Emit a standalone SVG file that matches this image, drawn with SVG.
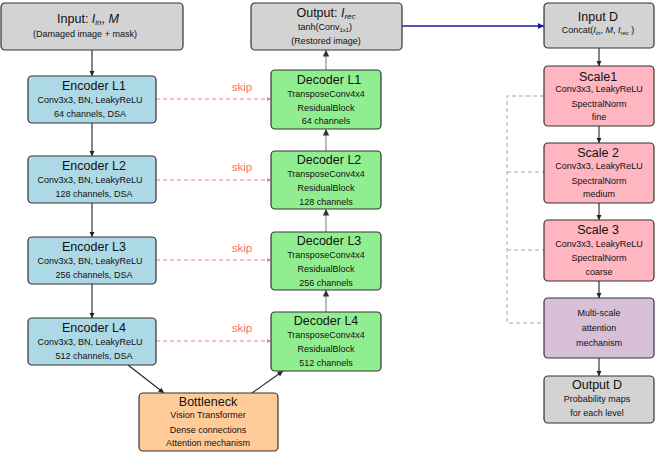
<svg xmlns="http://www.w3.org/2000/svg" width="655" height="452" viewBox="0 0 655 452">
<defs>
<marker id="ak" viewBox="0 0 10 10" refX="10" refY="5" markerWidth="5" markerHeight="5" orient="auto"><path d="M0,0 L10,5 L0,10 z" fill="#222"/></marker>
<marker id="ag" viewBox="0 0 10 10" refX="10" refY="5" markerWidth="5" markerHeight="5" orient="auto"><path d="M0,0 L10,5 L0,10 z" fill="#333"/></marker>
<marker id="ar" viewBox="0 0 10 10" refX="10" refY="5" markerWidth="4" markerHeight="4" orient="auto"><path d="M0,0 L10,5 L0,10 z" fill="#f08070"/></marker>
<marker id="ab" viewBox="0 0 10 10" refX="10" refY="5" markerWidth="4" markerHeight="4" orient="auto"><path d="M0,0 L10,5 L0,10 z" fill="#1c1ca0"/></marker>
</defs>
<style>
text{font-family:"Liberation Sans",Arial,sans-serif;fill:#111;text-anchor:middle}
.t{font-size:12.5px}
.s{font-size:9px}
.box{stroke:#333;stroke-width:1.2}
.gray{fill:#d3d3d3}
.enc{fill:#add8e6}
.dec{fill:#90ee90}
.bot{fill:#ffcc99}
.sc{fill:#ffb6c1}
.ms{fill:#d8bfd8}
.k{stroke:#222;stroke-width:1.1;fill:none;marker-end:url(#ak)}
.g{stroke:#999;stroke-width:1.3;fill:none;marker-end:url(#ag)}
.r{stroke:#f08070;stroke-width:1;stroke-dasharray:4,3;fill:none;marker-end:url(#ar)}
.d{stroke:#c4c4c4;stroke-width:1.5;stroke-dasharray:4,3;fill:none}
.sk{fill:#f07860;font-size:11.5px}
.i{font-style:italic}
</style>
<g id="connectors">
<line class="k" x1="92" y1="50" x2="92" y2="76"/>
<line class="k" x1="92" y1="123" x2="92" y2="156"/>
<line class="k" x1="92" y1="203" x2="92" y2="237"/>
<line class="k" x1="92" y1="284" x2="92" y2="318"/>
<line class="k" x1="128" y1="365" x2="164" y2="393"/>
<line class="k" x1="252" y1="393" x2="283" y2="371"/>
<line class="g" x1="326" y1="312" x2="326" y2="290"/>
<line class="g" x1="326" y1="232" x2="326" y2="209"/>
<line class="g" x1="326" y1="151" x2="326" y2="129"/>
<line class="g" x1="326" y1="70" x2="326" y2="50"/>
<line class="r" x1="156" y1="99" x2="271" y2="99"/>
<line class="r" x1="156" y1="180" x2="271" y2="180"/>
<line class="r" x1="156" y1="260" x2="271" y2="260"/>
<line class="r" x1="156" y1="341" x2="271" y2="341"/>
<text class="sk" x="242" y="91">skip</text>
<text class="sk" x="242" y="171">skip</text>
<text class="sk" x="242" y="252">skip</text>
<text class="sk" x="242" y="332">skip</text>
<line x1="402" y1="26" x2="544" y2="26" stroke="#1c1ca0" stroke-width="1.6" marker-end="url(#ab)"/>
<line class="k" x1="599" y1="48" x2="599" y2="66"/>
<line class="k" x1="599" y1="126" x2="599" y2="143"/>
<line class="k" x1="599" y1="203" x2="599" y2="220"/>
<line class="k" x1="599" y1="281" x2="599" y2="298"/>
<line class="k" x1="599" y1="358" x2="599" y2="376"/>
<path class="d" d="M544,96 H507 V323 H544"/>
<line class="d" x1="507" y1="172" x2="544" y2="172"/>
<line class="d" x1="507" y1="250" x2="544" y2="250"/>
</g>
<g id="input">
<rect class="box gray" x="1" y="3" width="182" height="47" rx="4"/>
<text class="t" x="88" y="23">Input: <tspan class="i">I</tspan><tspan class="i" font-size="8" dy="2">in</tspan><tspan dy="-2">, </tspan><tspan class="i">M</tspan></text>
<text class="s" x="85" y="37">(Damaged image + mask)</text>
</g>
<g id="enc1">
<rect class="box enc" x="28" y="76" width="128" height="47" rx="4"/>
<text class="t" x="94" y="90">Encoder L1</text>
<text class="s" x="90" y="103">Conv3x3, BN, LeakyReLU</text>
<text class="s" x="90" y="117">64 channels, DSA</text>
</g>
<g id="enc2">
<rect class="box enc" x="28" y="156" width="128" height="47" rx="4"/>
<text class="t" x="94" y="170">Encoder L2</text>
<text class="s" x="90" y="183">Conv3x3, BN, LeakyReLU</text>
<text class="s" x="94" y="197">128 channels, DSA</text>
</g>
<g id="enc3">
<rect class="box enc" x="28" y="237" width="128" height="47" rx="4"/>
<text class="t" x="94" y="251">Encoder L3</text>
<text class="s" x="90" y="264">Conv3x3, BN, LeakyReLU</text>
<text class="s" x="94" y="278">256 channels, DSA</text>
</g>
<g id="enc4">
<rect class="box enc" x="28" y="318" width="128" height="47" rx="4"/>
<text class="t" x="94" y="332">Encoder L4</text>
<text class="s" x="90" y="345">Conv3x3, BN, LeakyReLU</text>
<text class="s" x="94" y="359">512 channels, DSA</text>
</g>
<g id="bottleneck">
<rect class="box bot" x="139" y="393" width="139" height="58" rx="4"/>
<text class="t" x="208" y="406">Bottleneck</text>
<text class="s" x="208" y="418">Vision Transformer</text>
<text class="s" x="208" y="433">Dense connections</text>
<text class="s" x="208" y="446">Attention mechanism</text>
</g>
<g id="output">
<rect class="box gray" x="251" y="3" width="151" height="47" rx="4"/>
<text class="t" x="326" y="17">Output: <tspan class="i">I</tspan><tspan class="i" font-size="8" dy="2">rec</tspan></text>
<text class="s" x="325" y="30">tanh(Conv<tspan font-size="6" dy="2">1x1</tspan><tspan dy="-2">)</tspan></text>
<text class="s" x="326" y="44">(Restored image)</text>
</g>
<g id="dec1">
<rect class="box dec" x="271" y="70" width="110" height="59" rx="4"/>
<text class="t" x="329" y="84">Decoder L1</text>
<text class="s" x="326" y="97">TransposeConv4x4</text>
<text class="s" x="326" y="111">ResidualBlock</text>
<text class="s" x="326" y="124">64 channels</text>
</g>
<g id="dec2">
<rect class="box dec" x="271" y="151" width="110" height="58" rx="4"/>
<text class="t" x="329" y="164">Decoder L2</text>
<text class="s" x="326" y="177">TransposeConv4x4</text>
<text class="s" x="326" y="191">ResidualBlock</text>
<text class="s" x="326" y="205">128 channels</text>
</g>
<g id="dec3">
<rect class="box dec" x="271" y="232" width="110" height="58" rx="4"/>
<text class="t" x="329" y="245">Decoder L3</text>
<text class="s" x="326" y="258">TransposeConv4x4</text>
<text class="s" x="326" y="272">ResidualBlock</text>
<text class="s" x="326" y="286">256 channels</text>
</g>
<g id="dec4">
<rect class="box dec" x="271" y="312" width="110" height="59" rx="4"/>
<text class="t" x="326" y="325">Decoder L4</text>
<text class="s" x="326" y="338">TransposeConv4x4</text>
<text class="s" x="326" y="352">ResidualBlock</text>
<text class="s" x="326" y="366">512 channels</text>
</g>
<g id="inputD">
<rect class="box gray" x="544" y="3" width="110" height="45" rx="4"/>
<text class="t" x="598" y="21">Input D</text>
<text class="s" x="598" y="33">Concat(<tspan class="i">I</tspan><tspan class="i" font-size="6" dy="1.5">in</tspan><tspan dy="-1.5">, </tspan><tspan class="i">M</tspan>, <tspan class="i">I</tspan><tspan class="i" font-size="6" dy="1.5">rec</tspan><tspan dy="-1.5"> )</tspan></text>
</g>
<g id="scale1">
<rect class="box sc" x="544" y="66" width="110" height="60" rx="4"/>
<text class="t" x="598" y="81">Scale1</text>
<text class="s" x="599" y="92">Conv3x3, LeakyReLU</text>
<text class="s" x="599" y="107">SpectralNorm</text>
<text class="s" x="599" y="120">fine</text>
</g>
<g id="scale2">
<rect class="box sc" x="544" y="143" width="110" height="60" rx="4"/>
<text class="t" x="598" y="157">Scale 2</text>
<text class="s" x="599" y="169">Conv3x3, LeakyReLU</text>
<text class="s" x="599" y="184">SpectralNorm</text>
<text class="s" x="599" y="197">medium</text>
</g>
<g id="scale3">
<rect class="box sc" x="544" y="220" width="110" height="61" rx="4"/>
<text class="t" x="598" y="234">Scale 3</text>
<text class="s" x="599" y="247">Conv3x3, LeakyReLU</text>
<text class="s" x="599" y="261">SpectralNorm</text>
<text class="s" x="599" y="275">coarse</text>
</g>
<g id="multiscale">
<rect class="box ms" x="544" y="298" width="110" height="60" rx="4"/>
<text class="s" x="599" y="316">Multi-scale</text>
<text class="s" x="599" y="331">attention</text>
<text class="s" x="599" y="346">mechanism</text>
</g>
<g id="outputD">
<rect class="box gray" x="544" y="376" width="110" height="47" rx="4"/>
<text class="t" x="597" y="389">Output D</text>
<text class="s" x="597" y="402">Probability maps</text>
<text class="s" x="597" y="416">for each level</text>
</g>
</svg>
